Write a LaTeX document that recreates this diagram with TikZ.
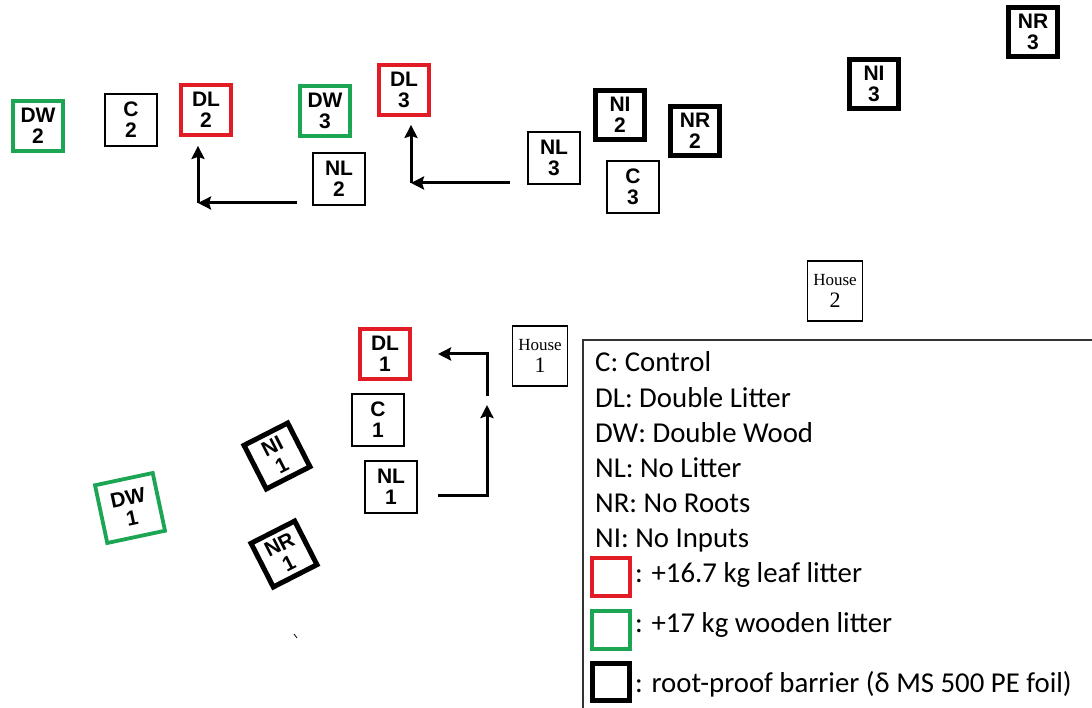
\documentclass[tikz,border=0pt]{standalone}
\usepackage{fontspec}
\setmainfont{Liberation Serif}
\setsansfont{Liberation Sans}
\newfontfamily\keyfamily{Carlito}
\usetikzlibrary{positioning, arrows.meta}

\definecolor{leafred}{RGB}{226,28,36}
\definecolor{woodgreen}{RGB}{28,166,84}

\tikzset{
  plotbox/.style={draw, minimum size=52pt, inner sep=0pt, align=center, line width=1.3pt,
    font=\sffamily\bfseries\fontsize{21}{21}\selectfont},
  leafplot/.style={plotbox, draw=leafred, line width=3.8pt, minimum size=50pt},
  woodplot/.style={plotbox, draw=woodgreen, line width=3.8pt, minimum size=50pt},
  barrierplot/.style={plotbox, line width=5pt, minimum size=49pt},
  house/.style={draw, line width=1.3pt, minimum width=55pt, minimum height=60pt,
    inner sep=0pt, align=center},
  keyline/.style={font=\keyfamily\fontsize{28.8}{35}\selectfont, inner sep=0pt, anchor=base west},
  swatch/.style={draw, line width=4pt, minimum size=38pt, inner sep=0pt},
  flow/.style={line width=3pt, >={Stealth[length=13pt, width=13pt, inset=2pt]}}
}

\begin{document}
\begin{tikzpicture}[x=1pt, y=-1pt]
  \useasboundingbox (0,0) rectangle (1092,708);

  % house 2 plots
  \node[woodplot] (DW2) at (38,126) {DW\\2};
  \node[plotbox] (C2) at (131,120) {C\\2};
  \node[leafplot] (DL2) at (206,110) {DL\\2};
  \node[woodplot] (DW3) at (325,111) {DW\\3};
  \node[plotbox] (NL2) at (339,179) {NL\\2};
  \node[leafplot] (DL3) at (404,90) {DL\\3};
  \node[plotbox] (NL3) at (554,158) {NL\\3};
  \node[barrierplot] (NI2) at (620,115) {NI\\2};
  \node[barrierplot] (NR2) at (695,131) {NR\\2};
  \node[plotbox] (C3) at (633,187) {C\\3};
  \node[barrierplot] (NI3) at (874,84) {NI\\3};
  \node[barrierplot] (NR3) at (1033,32) {NR\\3};
  \node[house] (H2) at (835,291) {\fontsize{17}{17}\selectfont House\\[6pt]\fontsize{22}{22}\selectfont 2};

  % house 1 plots
  \node[leafplot] (DL1) at (385,354) {DL\\1};
  \node[house] (H1) at (540,356) {\fontsize{17}{17}\selectfont House\\[6pt]\fontsize{22}{22}\selectfont 1};
  \node[plotbox] (C1) at (378,420) {C\\1};
  \node[plotbox] (NL1) at (391,487) {NL\\1};
  \node[barrierplot, rotate=27] (NI1) at (277,456) {NI\\1};
  \node[barrierplot, rotate=27] (NR1) at (284,554) {NR\\1};
  \node[woodplot, rotate=12, minimum size=59pt] (DW1) at (130,508) {DW\\1};
  \draw[line width=0.8pt] (294,634) -- (297,638);

  % moves
  \coordinate (a2) at (297,203);
  \coordinate (b2) at (198,203);
  \draw[flow, ->] (a2) -- (b2);
  \draw[flow, ->, shorten >=9pt] (b2) -- (b2 |- DL2.south);

  \coordinate (a3) at (510,183);
  \coordinate (b3) at (411,183);
  \draw[flow, ->] (a3) -- (b3);
  \draw[flow, ->, shorten >=8pt] (b3) -- (b3 |- DL3.south);

  \coordinate (a1) at (438,495);
  \coordinate (c1) at (487,405);
  \coordinate (d1) at (487,396);
  \coordinate (f1) at (438,354);
  \draw[flow, ->] (a1) -| (c1);
  \draw[flow, ->] (d1) |- (f1);

  % legend
  \draw[line width=1.2pt, draw=black!80] (583,708) |- (1092,340);
  \node[keyline] (k1) at (595,372) {C: Control};
  \node[keyline, below=35pt of k1.base west, anchor=base west] (k2) {DL: Double Litter};
  \node[keyline, below=35pt of k2.base west, anchor=base west] (k3) {DW: Double Wood};
  \node[keyline, below=35pt of k3.base west, anchor=base west] (k4) {NL: No Litter};
  \node[keyline, below=35pt of k4.base west, anchor=base west] (k5) {NR: No Roots};
  \node[keyline, below=35pt of k5.base west, anchor=base west] (k6) {NI: No Inputs};
  \node[keyline] (k7) at (635,582) {: +16.7 kg leaf litter};
  \node[keyline, below=50pt of k7.base west, anchor=base west] (k8) {: +17 kg wooden litter};
  \node[keyline, below=60pt of k8.base west, anchor=base west] (k9) {: root-proof barrier (δ MS 500 PE foil)};
  \node[swatch, draw=leafred] (s7) at (611,577) {};
  \node[swatch, draw=woodgreen] (s8) at (611,630) {};
  \node[swatch, line width=5pt, minimum size=37pt] (s9) at (611,682) {};
\end{tikzpicture}
\end{document}
